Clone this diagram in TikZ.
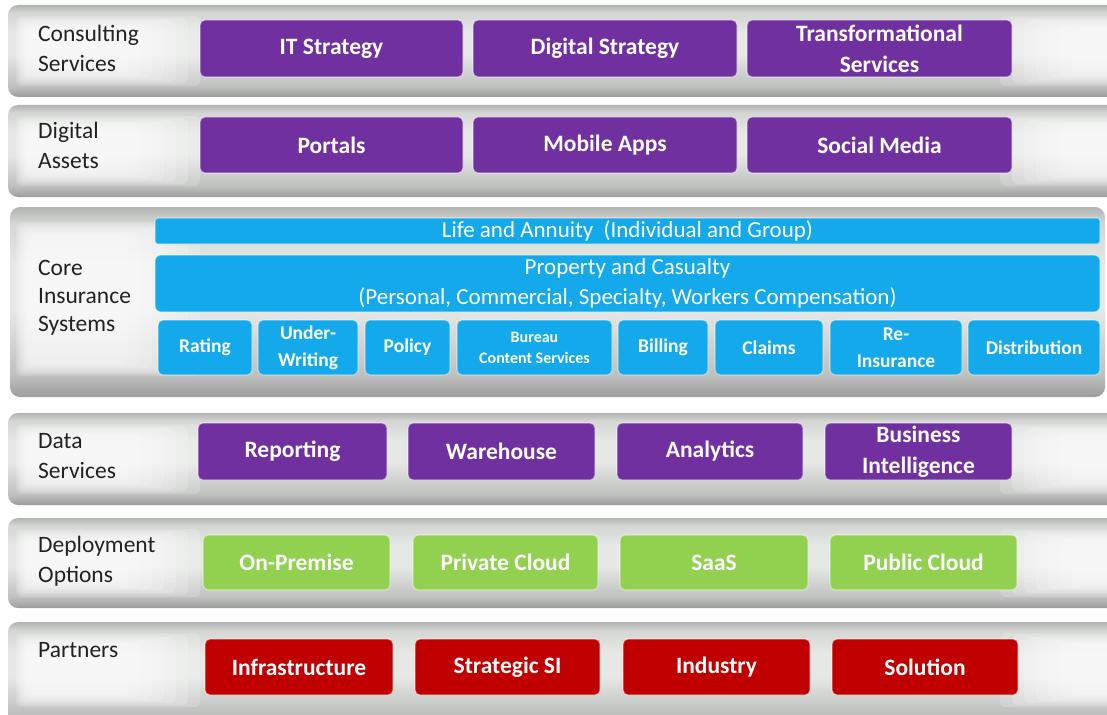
\documentclass[tikz,border=0pt]{standalone}
\usepackage{fontspec}
\setmainfont{Carlito}

\definecolor{stackpurple}{HTML}{7030A0}
\definecolor{stackblue}{HTML}{14A9EA}
\definecolor{stackgreen}{HTML}{92D050}
\definecolor{stackred}{HTML}{C00000}
\definecolor{labelgray}{HTML}{222222}
\definecolor{tubetop}{HTML}{B2B4B2}
\definecolor{tubehi}{HTML}{E6E8E6}
\definecolor{tubelight}{HTML}{D2D5D2}
\definecolor{tubemid}{HTML}{BFC1BF}
\definecolor{tubedark}{HTML}{9C9C9C}
\pgfdeclareverticalshading{tube}{100bp}{color(0bp)=(tubedark); color(25bp)=(tubedark); color(31bp)=(tubemid); color(48bp)=(tubehi); color(60bp)=(tubehi); color(71bp)=(tubelight); color(75bp)=(tubetop); color(100bp)=(tubetop)}

\begin{document}
\begin{tikzpicture}[x=1pt,y=-1pt,
    band/.style={shading=tube, rounded corners=10pt},
    shine/.style={fill=white, opacity=.18, rounded corners=6pt},
    rowlabel/.style={anchor=west, align=left, inner sep=0pt, text=labelgray,
      font=\fontsize{23.5}{30}\selectfont},
    tile/.style={rounded corners=5pt, inner sep=0pt, align=center, text=white,
      draw=white, draw opacity=.45, line width=1.2pt,
      font=\bfseries\fontsize{23.5}{31}\selectfont},
    purpletile/.style={tile, fill=stackpurple},
    bluetile/.style={tile, fill=stackblue, font=\bfseries\fontsize{19.5}{27}\selectfont},
    bartile/.style={tile, fill=stackblue, rounded corners=3pt, font=\fontsize{23}{30}\selectfont},
    greentile/.style={tile, fill=stackgreen},
    redtile/.style={tile, fill=stackred}]
  \useasboundingbox[fill=white] (0,0) rectangle (1107,714);

  % the six tubes
  \path[band] (8,5) rectangle (1117,97);
  \path[band] (8,105) rectangle (1117,197);
  \path[band] (10,207) rectangle (1105,397);
  \path[band] (8,413) rectangle (1117,505);
  \path[band] (8,518) rectangle (1117,608);
  \path[band] (8,622) rectangle (1117,724);
  % soft highlights at the tube ends
  \foreach \t/\b in {16/86,116/186,222/376,424/494,529/597,633/707}
    \foreach \k in {0,...,6}
      \fill[shine] (16+\k*2,\t+\k*2) rectangle (200-\k*12,\b-\k*2);
  \foreach \t/\b in {16/86,116/186,424/494,529/597,633/707}
    \foreach \k in {0,...,6}
      \fill[shine] (1000+\k*12,\t+\k*2) rectangle (1117,\b-\k*2);

  % row labels
  \node[rowlabel] (consulting) at (38,48) {Consulting\\Services};
  \node[rowlabel] (digital) at (38,145) {Digital\\Assets};
  \node[rowlabel, font=\fontsize{23.5}{28}\selectfont] (core) at (38,298) {Core\\Insurance\\Systems};
  \node[rowlabel] (data) at (38,456) {Data\\Services};
  \node[rowlabel] (deploy) at (38,561) {Deployment\\Options};
  \node[rowlabel] (partners) at (38,650) {Partners};

  % consulting services
  \node[purpletile, minimum width=263, minimum height=57] (itstrat) at (331.5,48.5) {IT Strategy};
  \node[purpletile, minimum width=264, minimum height=57] (digstrat) at (605,48.5) {Digital Strategy};
  \node[purpletile, minimum width=265, minimum height=57] (transform) at (879.5,48.5) {Transformational\\Services};

  % digital assets
  \node[purpletile, minimum width=263, minimum height=56] (portals) at (331.5,145) {Portals};
  \node[purpletile, minimum width=264, minimum height=56] (mobile) at (605,145) {Mobile Apps};
  \node[purpletile, minimum width=265, minimum height=56] (social) at (879.5,145) {Social Media};

  % core insurance systems
  \node[bartile, minimum width=945, minimum height=26] (life) at (627.5,231) {Life and Annuity\ \ (Individual and Group)};
  \node[bartile, rounded corners=6pt, minimum width=945, minimum height=57] (pandc) at (627.5,283.5) {Property and Casualty\\(Personal, Commercial, Specialty, Workers Compensation)};
  \node[bluetile, minimum width=94, minimum height=55] (rating) at (205,347.5) {Rating};
  \node[bluetile, minimum width=100, minimum height=55] (underwr) at (308,347.5) {Under-\\Writing};
  \node[bluetile, minimum width=85, minimum height=55] (policy) at (407.5,347.5) {Policy};
  \node[bluetile, minimum width=155, minimum height=55, font=\bfseries\fontsize{16}{21}\selectfont] (bureau) at (534.5,347.5) {Bureau\\Content Services};
  \node[bluetile, minimum width=90, minimum height=55] (billing) at (663,347.5) {Billing};
  \node[bluetile, minimum width=108, minimum height=55] (claims) at (769,347.5) {Claims};
  \node[bluetile, minimum width=132, minimum height=55] (reins) at (896,347.5) {Re-\\Insurance};
  \node[bluetile, minimum width=132, minimum height=55] (distrib) at (1034,347.5) {Distribution};

  % data services
  \node[purpletile, minimum width=189, minimum height=57] (reporting) at (292.5,451.5) {Reporting};
  \node[purpletile, minimum width=187, minimum height=57] (warehouse) at (501.5,451.5) {Warehouse};
  \node[purpletile, minimum width=186, minimum height=57] (analytics) at (710,451.5) {Analytics};
  \node[purpletile, minimum width=187, minimum height=57] (bi) at (918.5,451.5) {Business\\Intelligence};

  % deployment options
  \node[greentile, minimum width=187, minimum height=55] (onprem) at (296.5,562.5) {On-Premise};
  \node[greentile, minimum width=185, minimum height=55] (private) at (505.5,562.5) {Private Cloud};
  \node[greentile, minimum width=188, minimum height=55] (saas) at (714,562.5) {SaaS};
  \node[greentile, minimum width=187, minimum height=55] (public) at (923.5,562.5) {Public Cloud};

  % partners
  \node[redtile, minimum width=188, minimum height=56] (infra) at (299,667) {Infrastructure};
  \node[redtile, minimum width=185, minimum height=56] (stratsi) at (507.5,667) {Strategic SI};
  \node[redtile, minimum width=187, minimum height=56] (industry) at (716.5,667) {Industry};
  \node[redtile, minimum width=186, minimum height=56] (solution) at (925,667) {Solution};
\end{tikzpicture}
\end{document}
